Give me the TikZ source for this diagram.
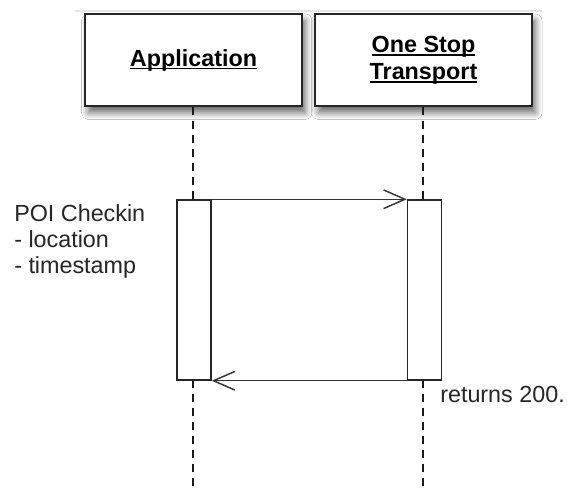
\documentclass[tikz,border=0pt]{standalone}
\usepackage{fontspec}
\setmainfont{Liberation Sans}
\usetikzlibrary{arrows.meta,shadows.blur}
\newcommand{\myul}[1]{\setbox0\hbox{#1}\rlap{\rule[-2.6pt]{\wd0}{1.1pt}}\box0}
\tikzset{
  actor/.style={draw=black!85, line width=1.5pt, fill=white, minimum width=162.75pt, minimum height=69pt,
    inner sep=0pt, align=center, font=\fontsize{17.5}{20.25}\selectfont\bfseries,
    blur shadow={shadow xshift=2.5pt, shadow yshift=-5pt, shadow blur steps=8, shadow blur radius=5pt, shadow opacity=60}},
  actbox/.style={draw=black!85, line width=1.1pt, fill=white, minimum width=25.5pt, minimum height=135pt, inner sep=0pt},
  lifeline/.style={draw=black!90, line width=1.1pt, dash pattern=on 6pt off 4.5pt},
  msg/.style={draw=black!80, line width=1.1pt, -{Straight Barb[length=16pt,width=14pt,line width=1.1pt]}},
  note/.style={inner sep=0pt, font=\fontsize{17.5}{19.5}\selectfont, text=black!85, align=left}
}
\begin{document}
\begin{tikzpicture}[x=0.75pt,y=-0.75pt]
\useasboundingbox[fill=white] (0,0) rectangle (567,492);
\draw[black!10, line width=1.2pt] (75,11) -- (542,11);
\node[actor] (app) at (193.5,60) {\myul{Application}};
\node[actor] (ost) at (423.5,60) {\myul{One Stop}\\\myul{Transport}};
\node[actbox] (appact) at (194,290) {};
\node[actbox] (ostact) at (424.5,290) {};
\coordinate (append) at (193,492);
\coordinate (ostend) at (423,492);
\draw[lifeline] (app.south -| 193,0) -- (193,200);
\draw[lifeline] (ost.south -| 423,0) -- (423,200);
\draw[lifeline] (193,380) -- (append);
\draw[lifeline] (423,380) -- (ostend);
\draw[msg] (appact.north east) -- (ostact.north west);
\draw[msg] (ostact.south west) -- (appact.south east);
\node[note, anchor=north west] (poi) at (14,204) {POI Checkin\\- location\\- timestamp};
\node[note, anchor=base west] (ret) at (440,402.5) {returns 200.};
\end{tikzpicture}
\end{document}
